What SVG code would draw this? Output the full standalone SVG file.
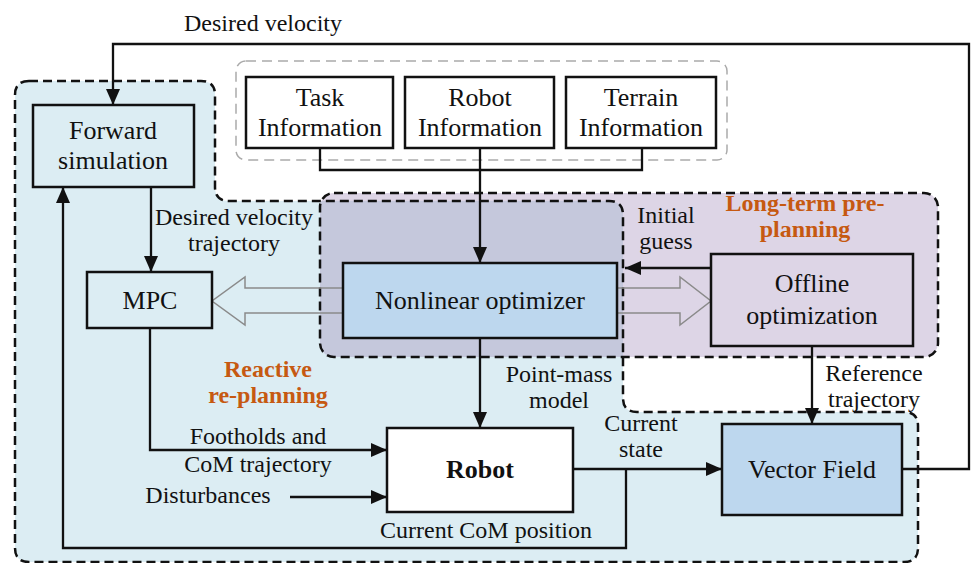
<svg xmlns="http://www.w3.org/2000/svg" width="971" height="563" viewBox="0 0 971 563">
<style>
text{font-family:"Liberation Serif","Times New Roman",serif;fill:#111;text-anchor:middle}
.lbl{font-size:24px}
.nl{font-size:26px}
.org{font-size:24px;font-weight:bold;fill:#c65911}
.box{stroke:#111;stroke-width:2.5}
.reg{fill:none;stroke:#111;stroke-width:2.5;stroke-dasharray:9 5}
.ln{fill:none;stroke:#111;stroke-width:2.3}
.hol{fill:none;stroke:#8a8a8a;stroke-width:1.5}
</style>
<defs>
<marker id="ah" markerUnits="userSpaceOnUse" markerWidth="16" markerHeight="14" refX="16" refY="7" orient="auto"><path d="M0,0 L16,7 L0,14 Z" fill="#111"/></marker>
<path id="blueReg" d="M29,81 H201 Q215,81 215,95 V187 Q215,201 229,201 H609 Q623,201 623,215 V398 Q623,412 637,412 H904 Q918,412 918,426 V548 Q918,562 904,562 H29 Q15,562 15,548 V95 Q15,81 29,81 Z"/>
<clipPath id="blueClip"><use href="#blueReg"/></clipPath>
</defs>
<rect width="971" height="563" fill="#fff"/>
<g id="regions">
<use href="#blueReg" fill="#dcedf3"/>
<rect x="320" y="193" width="618" height="164" rx="14" fill="#ddd5e6"/>
<rect x="320" y="193" width="618" height="164" rx="14" fill="#c5c8dc" clip-path="url(#blueClip)"/>
<use href="#blueReg" class="reg"/>
<rect x="320" y="193" width="618" height="164" rx="14" class="reg"/>
<rect x="236" y="61" width="491" height="99" rx="10" fill="none" stroke="#aaa" stroke-width="1.5" stroke-dasharray="10 6"/>
<text class="org" x="268" y="377">Reactive</text>
<text class="org" x="268" y="403">re-planning</text>
<text class="org" x="805" y="211">Long-term pre-</text>
<text class="org" x="805" y="237">planning</text>
</g>
<g id="connectors">
<path class="ln" d="M902,469 H969 V44 H113 V105" marker-end="url(#ah)"/>
<path class="ln" d="M320,148 V170 H642 V148"/>
<path class="ln" d="M480,148 V263" marker-end="url(#ah)"/>
<path class="ln" d="M151,187 V272" marker-end="url(#ah)"/>
<path class="ln" d="M150,328 V450 H387" marker-end="url(#ah)"/>
<path class="ln" d="M290,497 H387" marker-end="url(#ah)"/>
<path class="ln" d="M480,338 V428" marker-end="url(#ah)"/>
<path class="ln" d="M573,469 H722" marker-end="url(#ah)"/>
<path class="ln" d="M626,469 V548 H63 V187" marker-end="url(#ah)"/>
<path class="ln" d="M711,268 H625" marker-end="url(#ah)"/>
<path class="ln" d="M812,346 V424" marker-end="url(#ah)"/>
<path class="hol" d="M343,288 H245 V277 L212,301 L245,325 V313 H343"/>
<path class="hol" d="M617,288 H680 V277 L711,301 L680,325 V313 H617"/>
<text class="lbl" x="263" y="31" font-size="25">Desired velocity</text>
<text class="lbl" x="234" y="225">Desired velocity</text>
<text class="lbl" x="234" y="251">trajectory</text>
<text class="lbl" x="666" y="223">Initial</text>
<text class="lbl" x="666" y="249">guess</text>
<text class="lbl" x="559" y="382">Point-mass</text>
<text class="lbl" x="559" y="408">model</text>
<text class="lbl" x="874" y="381">Reference</text>
<text class="lbl" x="874" y="407">trajectory</text>
<text class="lbl" x="258" y="444">Footholds and</text>
<text class="lbl" x="258" y="472">CoM trajectory</text>
<text class="lbl" x="208" y="503">Disturbances</text>
<text class="lbl" x="486" y="538">Current CoM position</text>
<text class="lbl" x="641" y="431">Current</text>
<text class="lbl" x="641" y="457">state</text>
</g>
<g id="task">
<rect class="box" x="246" y="77" width="147" height="71" fill="#fff"/>
<text class="nl" x="320" y="106">Task</text>
<text class="nl" x="320" y="136">Information</text>
</g>
<g id="robotinfo">
<rect class="box" x="405" y="77" width="149" height="71" fill="#fff"/>
<text class="nl" x="480" y="106">Robot</text>
<text class="nl" x="480" y="136">Information</text>
</g>
<g id="terrain">
<rect class="box" x="566" y="77" width="150" height="71" fill="#fff"/>
<text class="nl" x="641" y="106">Terrain</text>
<text class="nl" x="641" y="136">Information</text>
</g>
<g id="forward">
<rect class="box" x="33" y="105" width="161" height="82" fill="#dcedf3"/>
<text class="nl" x="113" y="139">Forward</text>
<text class="nl" x="113" y="169">simulation</text>
</g>
<g id="mpc">
<rect class="box" x="87" y="272" width="125" height="56" fill="#dcedf3"/>
<text class="nl" x="150" y="309">MPC</text>
</g>
<g id="nlo">
<rect class="box" x="343" y="263" width="274" height="75" fill="#bdd7ee"/>
<text class="nl" x="480" y="309">Nonlinear optimizer</text>
</g>
<g id="offline">
<rect class="box" x="711" y="254" width="202" height="92" fill="#ddd5e6"/>
<text class="nl" x="812" y="292">Offline</text>
<text class="nl" x="812" y="324">optimization</text>
</g>
<g id="robot">
<rect class="box" x="387" y="428" width="186" height="84" fill="#fff"/>
<text class="nl" x="480" y="478" font-weight="bold">Robot</text>
</g>
<g id="vectorfield">
<rect class="box" x="722" y="424" width="180" height="91" fill="#bdd7ee"/>
<text class="nl" x="812" y="478">Vector Field</text>
</g>
</svg>
